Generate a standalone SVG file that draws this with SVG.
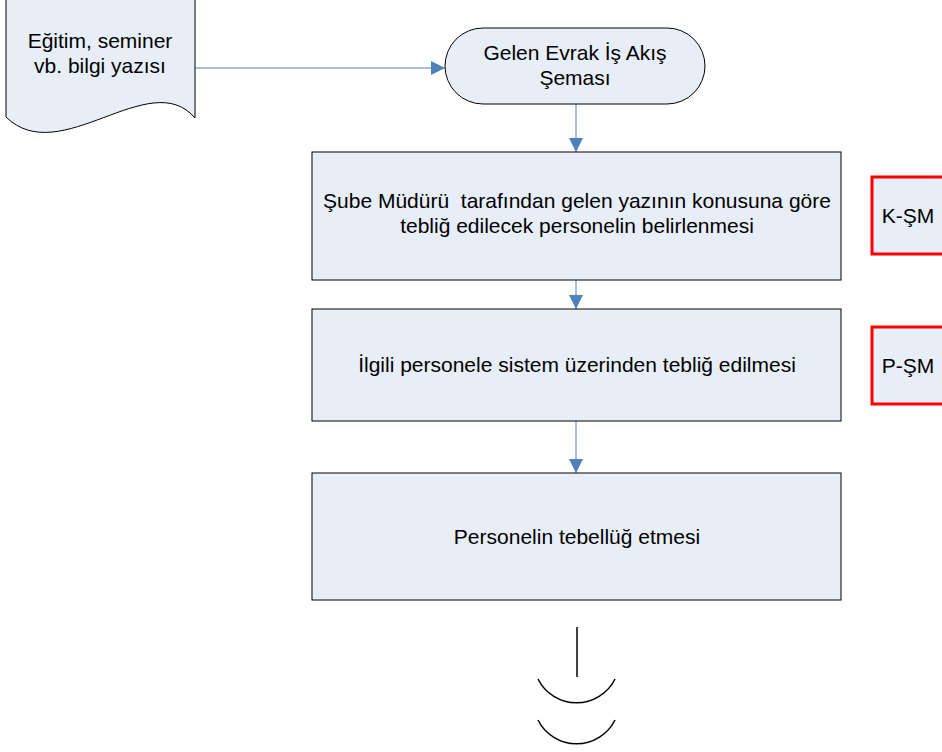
<svg xmlns="http://www.w3.org/2000/svg" width="942" height="752" viewBox="0 0 942 752">
<style>
.shape{fill:#E8EEF7;stroke:#000;stroke-width:1}
.tag{fill:#E8EEF7;stroke:#FF0000;stroke-width:3}
.txt{font-family:"Liberation Sans",Arial,sans-serif;font-size:21px;fill:#000;text-anchor:middle}
.conn{stroke:#4F81BD;stroke-width:1;fill:none;marker-end:url(#arr)}
.end{stroke:#000;stroke-width:1.5;fill:none}
</style>
<defs>
<marker id="arr" markerWidth="14" markerHeight="14" refX="14" refY="7" orient="auto" markerUnits="userSpaceOnUse">
<path d="M0,0 L14,7 L0,14 Z" fill="#4F81BD"/>
</marker>
</defs>
<rect width="942" height="752" fill="#fff"/>
<g id="connectors">
<line class="conn" x1="195" y1="68" x2="445" y2="68"/>
<line class="conn" x1="576" y1="104" x2="576" y2="152"/>
<line class="conn" x1="576" y1="280" x2="576" y2="309"/>
<line class="conn" x1="576" y1="421" x2="576" y2="473"/>
</g>
<g id="doc">
<path class="shape" d="M6,-10 L195,-10 L195,118 C150,65 60,170 6,117 Z"/>
<text class="txt" x="100" y="48">Eğitim, seminer</text>
<text class="txt" x="100" y="73">vb. bilgi yazısı</text>
</g>
<g id="start">
<rect class="shape" x="445" y="28" width="260" height="76" rx="38" ry="38"/>
<text class="txt" x="575" y="60">Gelen Evrak İş Akış</text>
<text class="txt" x="575" y="85">Şeması</text>
</g>
<g id="box1">
<rect class="shape" x="312" y="152" width="529" height="128"/>
<text class="txt" x="577" y="208" xml:space="preserve">Şube Müdürü  tarafından gelen yazının konusuna göre</text>
<text class="txt" x="577" y="233">tebliğ edilecek personelin belirlenmesi</text>
</g>
<g id="box2">
<rect class="shape" x="312" y="309" width="529" height="112"/>
<text class="txt" x="577" y="372">İlgili personele sistem üzerinden tebliğ edilmesi</text>
</g>
<g id="box3">
<rect class="shape" x="312" y="473" width="529" height="127"/>
<text class="txt" x="577" y="544">Personelin tebellüğ etmesi</text>
</g>
<g id="tagK">
<rect class="tag" x="872" y="177" width="100" height="77"/>
<text class="txt" x="908" y="223">K-ŞM</text>
</g>
<g id="tagP">
<rect class="tag" x="872" y="327" width="100" height="77"/>
<text class="txt" x="908" y="373">P-ŞM</text>
</g>
<g id="end">
<line class="end" x1="577" y1="627" x2="577" y2="677"/>
<path class="end" d="M538,679 A43,43 0 0 0 615,679"/>
<path class="end" d="M538,720 A43,43 0 0 0 615,720"/>
</g>
</svg>
